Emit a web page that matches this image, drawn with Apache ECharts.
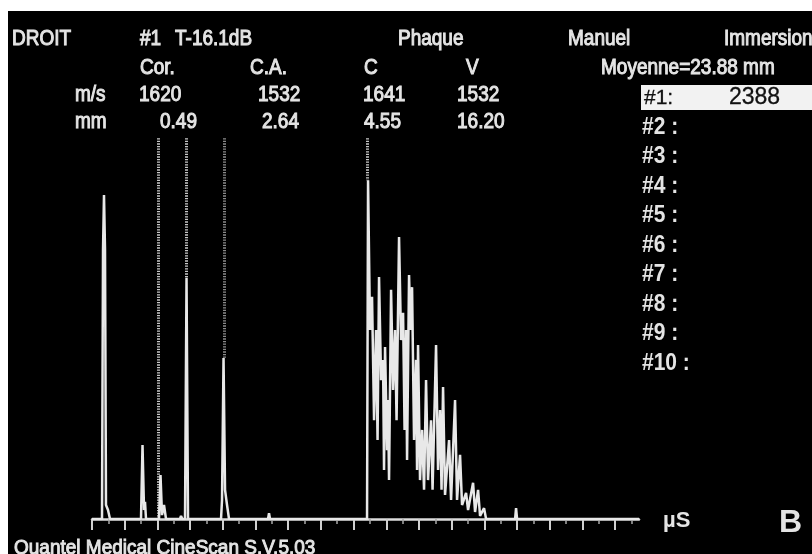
<!DOCTYPE html>
<html><head><meta charset="utf-8">
<script src="https://cdn.jsdelivr.net/npm/echarts@6/dist/echarts.min.js"></script>
<style>html,body{margin:0;padding:0;background:#fff}#c{width:812px;height:554px}</style>
</head><body><div id="c"></div>
<script>
// A-scan trace: time (axis tick units) and echo amplitude (% of screen height)
const traceTime = [0, 0.306, 0.337, 0.367, 0.398, 0.428, 0.489, 0.551,
  1.499, 1.545, 1.591, 1.621, 1.652,
  2.050, 2.095, 2.141, 2.202, 2.264, 2.690, 2.723, 2.760,
  2.845, 2.891, 2.937,
  3.946, 3.977, 4.023, 4.069, 4.130, 4.191,
  5.384, 5.414, 5.445,
  8.412, 8.443, 8.504, 8.565, 8.627, 8.688, 8.734, 8.779, 8.841, 8.902, 8.932, 8.963, 9.024, 9.055, 9.085,
  9.147, 9.208, 9.269, 9.315, 9.391, 9.452, 9.514, 9.560, 9.605, 9.636, 9.697, 9.743, 9.789, 9.850,
  9.911, 9.942, 9.972, 10.033, 10.095, 10.156, 10.217, 10.278, 10.370, 10.416, 10.523, 10.584,
  10.645, 10.691, 10.737, 10.798, 10.921, 10.982, 11.104, 11.165, 11.257, 11.318, 11.441, 11.502,
  11.655, 11.716, 11.808, 11.869, 11.991, 12.053,
  12.940, 12.970, 13.001, 16.73];
const traceAmp = [0, 0, 69.2, 83.3, 69.2, 3.6, 2.3, 0,
  0, 19.0, 2.3, 4.4, 0,
  0, 11.3, 1.0, 3.6, 0, 0, 0.8, 0,
  0, 62.0, 0,
  0, 4.9, 41.4, 7.5, 3.6, 0,
  0, 1.5, 0,
  0, 87.1, 48.6, 57.1, 25.4, 48.6, 20.3, 62.2, 35.7, 40.9, 12.6, 44.2, 17.7, 30.6, 10.0,
  58.9, 33.2, 48.6, 25.4, 72.5, 46.0, 53.0, 22.9, 48.6, 15.2, 62.7, 48.6, 59.6, 20.3,
  40.9, 12.6, 44.7, 10.0, 22.9, 7.5, 35.7, 10.0, 25.4, 7.5, 44.7, 12.6,
  28.0, 7.5, 33.9, 6.2, 20.3, 4.9, 30.6, 4.9, 16.5, 3.6, 6.7, 2.3,
  9.3, 1.8, 7.5, 0.8, 2.8, 0,
  0, 2.8, 0, 0];
// measurement gates (dotted cursors)
const gateTime = [2.02, 2.89, 4.04, 8.43];
const gateTop = [97.9, 97.9, 97.9, 97.9];
const gateBottom = [0, 62.0, 41.4, 87.1];
const majorTicks = [0,1,2,3,4,5,6,7,8,9,10,11,12,13,14,15,16];
const minorTicks = [0.5,1.5,2.5,3.5,4.5,5.5,6.5,7.5,8.5,9.5,10.5,11.5,12.5,13.5,14.5,15.5,16.5];
// header table
const segmentNames = ['Cor.', 'C.A.', 'C', 'V'];
const velocities = ['1620', '1532', '1641', '1532'];
const lengthsMm = ['0.49', '2.64', '4.55', '16.20'];
const measureLabels = ['#2 :', '#3 :', '#4 :', '#5 :', '#6 :', '#7 :', '#8 :', '#9 :', '#10 :'];

const FG = '#e4e4e4';
const F = '"Liberation Sans", Arial, sans-serif';
const chart = echarts.init(document.getElementById('c'));

function txt(s, x, y, size, opt) {
  opt = opt || {};
  return {type: 'text', x: x, y: y, z: 20, silent: true, scaleY: opt.sy || 1.12,
    style: {text: s, fill: opt.fill || FG, font: (opt.weight || 'normal') + ' ' + size + 'px ' + F,
      verticalAlign: opt.va || 'middle', align: 'left',
      stroke: opt.fill || FG, lineWidth: opt.lw == null ? 0.9 : opt.lw}};
}
const colX = [140, 250, 364, 466];
const velX = [139, 258, 363, 457];
const mmX = [160, 262, 364, 457];
const g = [
  {type: 'rect', z: -5, shape: {x: 0, y: 0, width: 812, height: 554}, style: {fill: '#fff'}},
  {type: 'rect', z: -4, shape: {x: 8, y: 11, width: 804, height: 543}, style: {fill: '#000'}},
  txt('DROIT', 12, 39, 19), txt('#1', 140, 39, 19), txt('T-16.1dB', 175, 39, 19),
  txt('Phaque', 398, 39, 19), txt('Manuel', 568, 39, 19), txt('Immersion', 724, 39, 19),
  txt('Moyenne=23.88 mm', 601, 68, 19),
  txt('m/s', 75, 95, 19), txt('mm', 75, 122, 19),
  {type: 'rect', z: 15, shape: {x: 641, y: 85, width: 171, height: 25}, style: {fill: '#f2f2f2'}},
  txt('#1:', 644, 98, 21, {fill: '#111', lw: 0.3, sy: 1}), txt('2388', 729, 98, 23, {fill: '#111', lw: 0.3, sy: 1}),
  txt('µS', 663, 521, 22, {weight: 'bold', lw: 0, sy: 1}),
  txt('B', 779, 523, 32, {weight: 'bold', lw: 0, sy: 1}),
  txt('Quantel Medical CineScan S.V.5.03', 14, 539, 19, {va: 'top', sy: 1.05})
];
segmentNames.forEach((s, i) => g.push(txt(s, colX[i], 68, 19)));
velocities.forEach((s, i) => g.push(txt(s, velX[i], 95, 19)));
lengthsMm.forEach((s, i) => g.push(txt(s, mmX[i], 122, 19)));
measureLabels.forEach((s, i) => g.push(txt(s, 642, 127.5 + i * 29.5, 21, {weight: 'bold', lw: 0, sy: 1.1})));

const trace = traceTime.map((t, i) => [t, traceAmp[i]]);
const gateLines = gateTime.map((t, i) => [
  {coord: [t, gateTop[i]], lineStyle: {color: i === 2 ? '#8a8a8a' : '#c8c8c8'}},
  {coord: [t, gateBottom[i]]}]);

chart.setOption({
  animation: false,
  backgroundColor: '#000',
  graphic: g,
  grid: {left: 92, right: 173, top: 130, bottom: 35},
  xAxis: [
    {type: 'value', min: 0, max: 16.73, position: 'bottom',
      axisLine: {show: true, lineStyle: {color: '#dcdcdc', width: 2.5}},
      axisTick: {show: true, customValues: majorTicks, length: 11, lineStyle: {color: '#d0d0d0', width: 2}},
      axisLabel: {show: false}, splitLine: {show: false}},
    {type: 'value', min: 0, max: 16.73, position: 'bottom',
      axisLine: {show: false},
      axisTick: {show: true, customValues: minorTicks, length: 5, lineStyle: {color: '#a8a8a8', width: 1.5}},
      axisLabel: {show: false}, splitLine: {show: false}}
  ],
  yAxis: {type: 'value', min: 0, max: 100, show: false},
  series: [{
    type: 'line', data: trace, showSymbol: false, symbol: 'none',
    lineStyle: {color: '#e8e8e8', width: 2.5}, z: 5,
    markLine: {silent: true, symbol: 'none', label: {show: false},
      lineStyle: {type: [1.3, 1.3], width: 3, color: '#c8c8c8'},
      data: gateLines}
  }]
});
</script></body></html>
